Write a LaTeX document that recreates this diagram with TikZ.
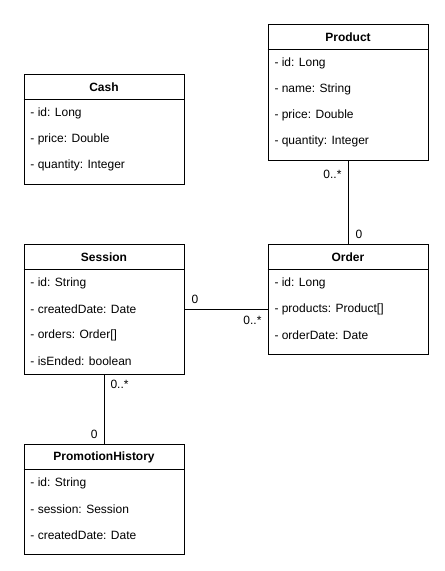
\documentclass[tikz,border=0pt]{standalone}
\usepackage{fontspec}
\setmainfont{Liberation Sans}
\tikzstyle{classbox}=[
    draw, line width=1pt,
    rectangle, inner sep=0pt,
    minimum width=160pt,
]
\tikzstyle{classtitle}=[font=\fontsize{12}{14}\selectfont\bfseries, inner sep=0pt]
\tikzstyle{attr}=[font=\fontsize{12}{14}\selectfont, anchor=west, inner sep=0pt]
\tikzstyle{mult}=[font=\fontsize{12}{14}\selectfont, inner sep=0pt]

\begin{document}
\begin{tikzpicture}[x=1pt, y=-1pt, line width=1pt]
        \useasboundingbox[fill=white] (0,0) rectangle (445,571);
        % classes
        \node[classbox, minimum height=136pt] (product) at (348,92) {};
        \draw (product.north west) ++(0,26) -- ++(160,0);
        \node[classtitle] (producttitle) at (348,37) {Product};
        \node[attr] (productid) at (274,63) {- id: Long};
        \node[attr] (productname) at (274,89) {- name: String};
        \node[attr] (productprice) at (274,115) {- price: Double};
        \node[attr] (productqty) at (274,141) {- quantity: Integer};

        \node[classbox, minimum height=110pt] (cash) at (104,129) {};
        \draw (cash.north west) ++(0,26) -- ++(160,0);
        \node[classtitle] (cashtitle) at (104,87) {Cash};
        \node[attr] (cashid) at (30,113) {- id: Long};
        \node[attr] (cashprice) at (30,139) {- price: Double};
        \node[attr] (cashqty) at (30,165) {- quantity: Integer};

        \node[classbox, minimum height=130pt] (session) at (104,309) {};
        \draw (session.north west) ++(0,26) -- ++(160,0);
        \node[classtitle] (sessiontitle) at (104,257) {Session};
        \node[attr] (sessionid) at (30,283) {- id: String};
        \node[attr] (sessiondate) at (30,309) {- createdDate: Date};
        \node[attr] (sessionorders) at (30,335) {- orders: Order[]};
        \node[attr] (sessionended) at (30,361) {- isEnded: boolean};

        \node[classbox, minimum height=110pt] (order) at (348,299) {};
        \draw (order.north west) ++(0,26) -- ++(160,0);
        \node[classtitle] (ordertitle) at (348,257) {Order};
        \node[attr] (orderid) at (274,283) {- id: Long};
        \node[attr] (orderproducts) at (274,309) {- products: Product[]};
        \node[attr] (orderdate) at (274,335) {- orderDate: Date};

        \node[classbox, minimum height=110pt] (promo) at (104,499) {};
        \draw (promo.north west) ++(0,26) -- ++(160,0);
        \node[classtitle] (promotitle) at (104,457) {PromotionHistory};
        \node[attr] (promoid) at (30,483) {- id: String};
        \node[attr] (promosession) at (30,509) {- session: Session};
        \node[attr] (promodate) at (30,535) {- createdDate: Date};

        % associations
        \draw (product.south) -- (order.north);
        \node[mult, anchor=east] (m1) at (342,174) {0..*};
        \node[mult, anchor=west] (m2) at (355,234) {0};
        \draw (session.east) -- (session.east -| order.west);
        \node[mult, anchor=west] (m3) at (191,299) {0};
        \node[mult, anchor=east] (m4) at (262,320) {0..*};
        \draw (session.south) -- (promo.north);
        \node[mult, anchor=west] (m5) at (110,384) {0..*};
        \node[mult, anchor=east] (m6) at (98,434) {0};
    \end{tikzpicture}
\end{document}
